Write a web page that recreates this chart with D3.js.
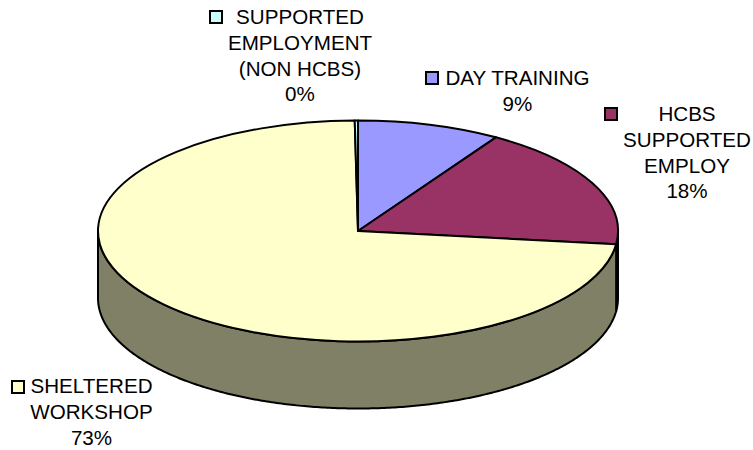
<!DOCTYPE html>
<html><head><meta charset="utf-8">
<script src="https://cdnjs.cloudflare.com/ajax/libs/d3/7.8.5/d3.min.js"></script>
<style>html,body{margin:0;padding:0;background:#fff}svg{display:block}text{font-family:"Liberation Sans",Arial,sans-serif;font-size:20.6px;fill:#000;text-anchor:middle}</style>
</head><body><svg id="c" width="753" height="450"></svg>
<script>
const categories=["DAY TRAINING","HCBS SUPPORTED EMPLOY","SHELTERED WORKSHOP","SUPPORTED EMPLOYMENT (NON HCBS)"];
const values=[8.9,18.0,72.9,0.2];
const colors=["#9999FF","#993366","#FFFFCC","#CCFFFF"];
const sideColors=["#4D4D80","#4D1A33","#808066","#668080"];
const labelLines=[["DAY TRAINING","9%"],["HCBS","SUPPORTED","EMPLOY","18%"],["SHELTERED","WORKSHOP","73%"],["SUPPORTED","EMPLOYMENT","(NON HCBS)","0%"]];
const labelX=[517.5,687,91.5,300];
const labelY=[85,121,393,24];
const swatchX=[426,605,12,210];
const swatchY=[72,108,381,11];
const cx=358,cy=231,rx=260,ry=110.5,depth=67;
const svg=d3.select("#c");
const pie=d3.pie().sort(null).value(d=>d);
const arcs=pie(values);
const rs=d3.scaleLinear().domain([0,1]).range([0,rx]);
const ex=a=>cx+rs(1)*Math.sin(a), ey=a=>cy-(ry/rx)*rs(1)*Math.cos(a);
// side walls: visible front half only
const line=d3.line();
arcs.forEach((d,i)=>{
  const a0=Math.max(d.startAngle,Math.PI/2),a1=Math.min(d.endAngle,Math.PI*1.5);
  if(a1<=a0)return;
  const ang=d3.range(a0,a1,0.01).concat([a1]);
  const top=ang.map(a=>[ex(a),ey(a)]);
  const bot=ang.slice().reverse().map(a=>[ex(a),ey(a)+depth]);
  svg.append("path").attr("d",line(top.concat(bot))+"Z").attr("fill",sideColors[i]).attr("stroke","#000").attr("stroke-width",2).attr("stroke-linejoin","round");
});
// top face
const arc=d3.arc().innerRadius(0).outerRadius(rx);
const g=svg.append("g").attr("transform",`translate(${cx},${cy}) scale(1,${ry/rx})`);
g.selectAll("path").data(arcs).join("path").attr("d",arc).attr("fill",(d,i)=>colors[i]).attr("stroke","#000").attr("stroke-width",2).attr("vector-effect","non-scaling-stroke").attr("stroke-linejoin","round");
// labels
labelLines.forEach((ls,i)=>{
  svg.append("rect").attr("x",swatchX[i]).attr("y",swatchY[i]).attr("width",12).attr("height",12).attr("fill",colors[i]).attr("stroke","#000").attr("stroke-width",2);
  const t=svg.append("text");
  ls.forEach((s,j)=>t.append("tspan").attr("x",labelX[i]).attr("y",labelY[i]+j*25.8).text(s));
});
</script></body></html>
